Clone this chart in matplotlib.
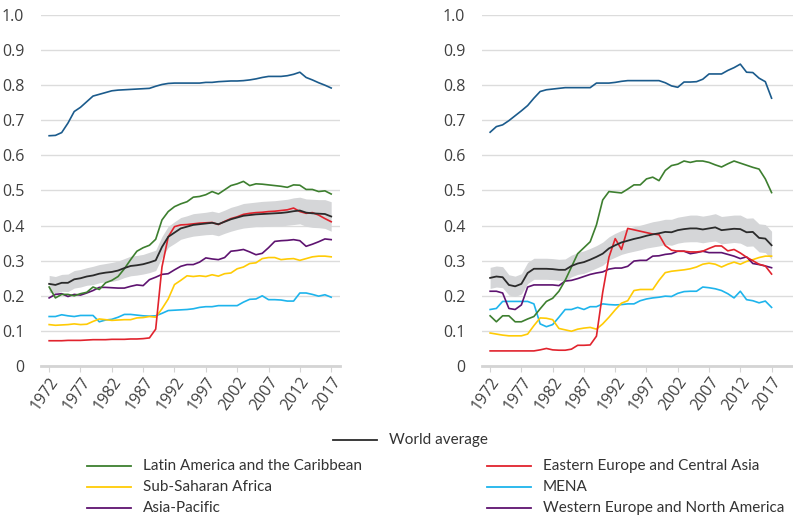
import matplotlib
matplotlib.use("Agg")
import matplotlib.pyplot as plt
from matplotlib.lines import Line2D

plt.rcParams['font.family'] = ['Open Sans', 'DejaVu Sans']

years = list(range(1972, 2018))
tick_years = list(range(1972, 2018, 5))

# ---- left panel ----
l_wena = [0.656, 0.657, 0.665, 0.692, 0.725, 0.737, 0.753, 0.769, 0.774, 0.779,
          0.784, 0.786, 0.787, 0.788, 0.789, 0.790, 0.791, 0.797, 0.802, 0.805,
          0.806, 0.806, 0.806, 0.806, 0.806, 0.808, 0.808, 0.810, 0.811, 0.812,
          0.812, 0.813, 0.815, 0.818, 0.822, 0.825, 0.825, 0.825, 0.827, 0.831,
          0.837, 0.822, 0.815, 0.807, 0.800, 0.792]
l_latam = [0.225, 0.194, 0.204, 0.204, 0.200, 0.206, 0.210, 0.225, 0.218, 0.237,
           0.244, 0.255, 0.277, 0.303, 0.327, 0.337, 0.344, 0.361, 0.416, 0.440,
           0.454, 0.462, 0.468, 0.481, 0.483, 0.488, 0.497, 0.490, 0.502, 0.514,
           0.519, 0.526, 0.514, 0.519, 0.518, 0.516, 0.514, 0.512, 0.509, 0.516,
           0.515, 0.503, 0.503, 0.497, 0.499, 0.490]
l_world = [0.234, 0.231, 0.237, 0.237, 0.247, 0.250, 0.255, 0.258, 0.263, 0.266,
           0.268, 0.272, 0.279, 0.285, 0.287, 0.290, 0.295, 0.301, 0.339, 0.368,
           0.380, 0.392, 0.397, 0.402, 0.404, 0.406, 0.408, 0.404, 0.411, 0.418,
           0.423, 0.428, 0.430, 0.432, 0.433, 0.434, 0.435, 0.436, 0.438, 0.441,
           0.443, 0.437, 0.435, 0.434, 0.433, 0.426]
l_band = [0.024, 0.024, 0.024, 0.025, 0.025, 0.025, 0.025, 0.026, 0.026, 0.026,
          0.027, 0.027, 0.027, 0.028, 0.028, 0.028, 0.029, 0.029, 0.030, 0.030,
          0.031, 0.031, 0.031, 0.032, 0.032, 0.032, 0.033, 0.033, 0.033, 0.034,
          0.034, 0.035, 0.035, 0.035, 0.036, 0.036, 0.036, 0.037, 0.037, 0.038,
          0.038, 0.039, 0.040, 0.040, 0.041, 0.042]
l_eeca = [0.072, 0.072, 0.072, 0.073, 0.073, 0.073, 0.074, 0.075, 0.075, 0.075,
          0.076, 0.076, 0.076, 0.077, 0.077, 0.078, 0.080, 0.105, 0.282, 0.368,
          0.397, 0.402, 0.403, 0.405, 0.407, 0.408, 0.409, 0.403, 0.412, 0.420,
          0.425, 0.432, 0.435, 0.437, 0.438, 0.440, 0.441, 0.443, 0.445, 0.450,
          0.440, 0.435, 0.437, 0.430, 0.420, 0.411]
l_ssa = [0.118, 0.116, 0.117, 0.118, 0.120, 0.118, 0.119, 0.127, 0.134, 0.132,
         0.130, 0.131, 0.132, 0.132, 0.137, 0.138, 0.141, 0.139, 0.163, 0.191,
         0.232, 0.244, 0.257, 0.255, 0.257, 0.255, 0.260, 0.256, 0.263, 0.265,
         0.277, 0.282, 0.292, 0.294, 0.306, 0.309, 0.309, 0.303, 0.305, 0.306,
         0.301, 0.306, 0.311, 0.313, 0.313, 0.311]
l_mena = [0.141, 0.141, 0.146, 0.143, 0.141, 0.144, 0.144, 0.144, 0.126, 0.131,
          0.133, 0.139, 0.147, 0.147, 0.145, 0.143, 0.142, 0.143, 0.150, 0.158,
          0.159, 0.160, 0.161, 0.163, 0.167, 0.169, 0.169, 0.172, 0.172, 0.172,
          0.172, 0.182, 0.190, 0.191, 0.200, 0.189, 0.189, 0.188, 0.185, 0.185,
          0.208, 0.208, 0.204, 0.199, 0.203, 0.196]
l_asia = [0.194, 0.204, 0.206, 0.198, 0.204, 0.202, 0.208, 0.215, 0.224, 0.224,
          0.223, 0.222, 0.222, 0.227, 0.231, 0.229, 0.246, 0.253, 0.261, 0.263,
          0.274, 0.284, 0.289, 0.289, 0.296, 0.308, 0.305, 0.303, 0.309, 0.327,
          0.329, 0.332, 0.325, 0.317, 0.321, 0.337, 0.355, 0.357, 0.358, 0.360,
          0.357, 0.341, 0.347, 0.354, 0.362, 0.360]

# ---- right panel ----
r_wena = [0.666, 0.682, 0.687, 0.699, 0.713, 0.727, 0.742, 0.763, 0.782, 0.787,
          0.789, 0.791, 0.793, 0.793, 0.793, 0.793, 0.793, 0.806, 0.806, 0.806,
          0.808, 0.811, 0.813, 0.813, 0.813, 0.813, 0.813, 0.813, 0.807, 0.798,
          0.794, 0.809, 0.809, 0.810, 0.817, 0.832, 0.832, 0.832, 0.842, 0.850,
          0.860, 0.837, 0.836, 0.820, 0.810, 0.763]
r_latam = [0.143, 0.126, 0.143, 0.143, 0.126, 0.126, 0.134, 0.141, 0.163, 0.184,
           0.193, 0.213, 0.244, 0.282, 0.320, 0.337, 0.354, 0.402, 0.473, 0.497,
           0.495, 0.493, 0.504, 0.516, 0.516, 0.533, 0.538, 0.528, 0.557, 0.571,
           0.575, 0.584, 0.580, 0.584, 0.584, 0.580, 0.573, 0.567, 0.576, 0.584,
           0.578, 0.572, 0.566, 0.561, 0.533, 0.494]
r_world = [0.251, 0.255, 0.253, 0.231, 0.227, 0.234, 0.265, 0.277, 0.277, 0.277,
           0.276, 0.274, 0.274, 0.285, 0.292, 0.296, 0.303, 0.311, 0.320, 0.335,
           0.344, 0.352, 0.357, 0.362, 0.366, 0.371, 0.375, 0.378, 0.382, 0.381,
           0.387, 0.390, 0.392, 0.392, 0.389, 0.392, 0.395, 0.387, 0.389, 0.391,
           0.390, 0.381, 0.382, 0.365, 0.363, 0.344]
r_band = [0.030, 0.030, 0.030, 0.029, 0.029, 0.029, 0.030, 0.030, 0.030, 0.030,
          0.030, 0.030, 0.031, 0.031, 0.031, 0.032, 0.032, 0.032, 0.033, 0.033,
          0.034, 0.034, 0.034, 0.035, 0.035, 0.035, 0.036, 0.036, 0.036, 0.037,
          0.037, 0.037, 0.038, 0.038, 0.038, 0.038, 0.039, 0.039, 0.039, 0.039,
          0.040, 0.040, 0.040, 0.040, 0.040, 0.040]
r_eeca = [0.043, 0.043, 0.043, 0.043, 0.043, 0.043, 0.043, 0.043, 0.046, 0.050,
          0.046, 0.045, 0.045, 0.048, 0.059, 0.059, 0.060, 0.085, 0.210, 0.310,
          0.363, 0.332, 0.392, 0.388, 0.384, 0.380, 0.376, 0.374, 0.343, 0.330,
          0.327, 0.327, 0.325, 0.325, 0.327, 0.335, 0.342, 0.342, 0.328, 0.332,
          0.322, 0.310, 0.300, 0.290, 0.285, 0.262]
r_ssa = [0.094, 0.091, 0.088, 0.086, 0.086, 0.086, 0.091, 0.115, 0.137, 0.136,
         0.132, 0.107, 0.103, 0.099, 0.105, 0.108, 0.110, 0.105, 0.120, 0.139,
         0.160, 0.179, 0.186, 0.215, 0.218, 0.218, 0.218, 0.244, 0.266, 0.270,
         0.272, 0.274, 0.277, 0.282, 0.290, 0.293, 0.290, 0.282, 0.290, 0.296,
         0.290, 0.298, 0.303, 0.309, 0.313, 0.313]
r_mena = [0.161, 0.164, 0.184, 0.184, 0.184, 0.184, 0.184, 0.177, 0.120, 0.112,
          0.118, 0.139, 0.161, 0.161, 0.167, 0.161, 0.169, 0.169, 0.177, 0.175,
          0.174, 0.175, 0.177, 0.177, 0.186, 0.191, 0.194, 0.196, 0.199, 0.198,
          0.207, 0.212, 0.213, 0.213, 0.225, 0.223, 0.220, 0.215, 0.206, 0.194,
          0.213, 0.189, 0.186, 0.180, 0.185, 0.167]
r_asia = [0.213, 0.213, 0.208, 0.164, 0.161, 0.174, 0.225, 0.231, 0.231, 0.231,
          0.231, 0.229, 0.242, 0.244, 0.249, 0.255, 0.261, 0.265, 0.268, 0.276,
          0.279, 0.279, 0.284, 0.299, 0.301, 0.301, 0.313, 0.314, 0.318, 0.320,
          0.327, 0.327, 0.320, 0.323, 0.327, 0.323, 0.323, 0.323, 0.318, 0.313,
          0.306, 0.311, 0.292, 0.289, 0.285, 0.280]

c_wena = '#1b5b8c'
c_latam = '#3d7f2f'
c_eeca = '#e1232d'
c_ssa = '#ffcb05'
c_mena = '#1eb4ec'
c_asia = '#5e1370'
c_world = '#2b2b2b'
c_band = '#d5d6d8'

fig = plt.figure(figsize=(7.93, 5.15), dpi=100)
ax1 = fig.add_axes([0.0517, 0.2893, 0.377, 0.6816])
ax2 = fig.add_axes([0.6078, 0.2893, 0.392, 0.6816])


def draw(ax, wena, latam, world, band, eeca, ssa, mena, asia, xmax):
    lo = [w - b for w, b in zip(world, band)]
    hi = [w + b for w, b in zip(world, band)]
    ax.fill_between(years, lo, hi, color=c_band, lw=0, zorder=1)
    ax.plot(years, mena, color=c_mena, lw=1.2, zorder=2)
    ax.plot(years, ssa, color=c_ssa, lw=1.2, zorder=2)
    ax.plot(years, asia, color=c_asia, lw=1.2, zorder=2)
    ax.plot(years, latam, color=c_latam, lw=1.2, zorder=2)
    ax.plot(years, eeca, color=c_eeca, lw=1.2, zorder=3)
    ax.plot(years, world, color=c_world, lw=1.3, zorder=4)
    ax.plot(years, wena, color=c_wena, lw=1.2, zorder=2)
    ax.set_xlim(1970.7, xmax)
    ax.set_ylim(0, 1.0)
    ax.set_yticks([i / 10 for i in range(11)])
    ax.set_yticklabels(['0'] + ['%.1f' % (i / 10) for i in range(1, 11)])
    ax.set_xticks(tick_years)
    ax.set_xticklabels([str(y) for y in tick_years], rotation=55, ha='right',
                       rotation_mode='anchor')
    ax.grid(axis='y', color='#dcdcdc', lw=1)
    ax.set_axisbelow(True)
    for s in ['top', 'right', 'left']:
        ax.spines[s].set_visible(False)
    ax.spines['bottom'].set_color('#d4d4d4')
    ax.spines['bottom'].set_linewidth(2)
    ax.tick_params(axis='y', length=0, labelsize=11.5, labelcolor='#404040', pad=12)
    ax.tick_params(axis='x', length=4, color='#d4d4d4', labelsize=11.5,
                   labelcolor='#404040', pad=2)


draw(ax1, l_wena, l_latam, l_world, l_band, l_eeca, l_ssa, l_mena, l_asia, 2018.4)
draw(ax2, r_wena, r_latam, r_world, r_band, r_eeca, r_ssa, r_mena, r_asia, 2020.4)

# legend drawn by hand
leg_items = [
    ('World average', c_world, 333, 440),
    ('Latin America and the Caribbean', c_latam, 87, 466),
    ('Sub-Saharan Africa', c_ssa, 87, 487),
    ('Asia-Pacific', c_asia, 87, 508),
    ('Eastern Europe and Central Asia', c_eeca, 487, 466),
    ('MENA', c_mena, 487, 487),
    ('Western Europe and North America', c_asia, 487, 508),
]
W, H = 793.0, 515.0
for label, col, px, py in leg_items:
    fig.add_artist(Line2D([px / W, (px + 44) / W], [1 - py / H, 1 - py / H],
                          color=col, lw=1.3, transform=fig.transFigure))
    fig.text((px + 56) / W, 1 - py / H, label, fontsize=11, color='#333333',
             va='center', ha='left', family=['Lato', 'DejaVu Sans'])

fig.savefig('out.png', dpi=100)
